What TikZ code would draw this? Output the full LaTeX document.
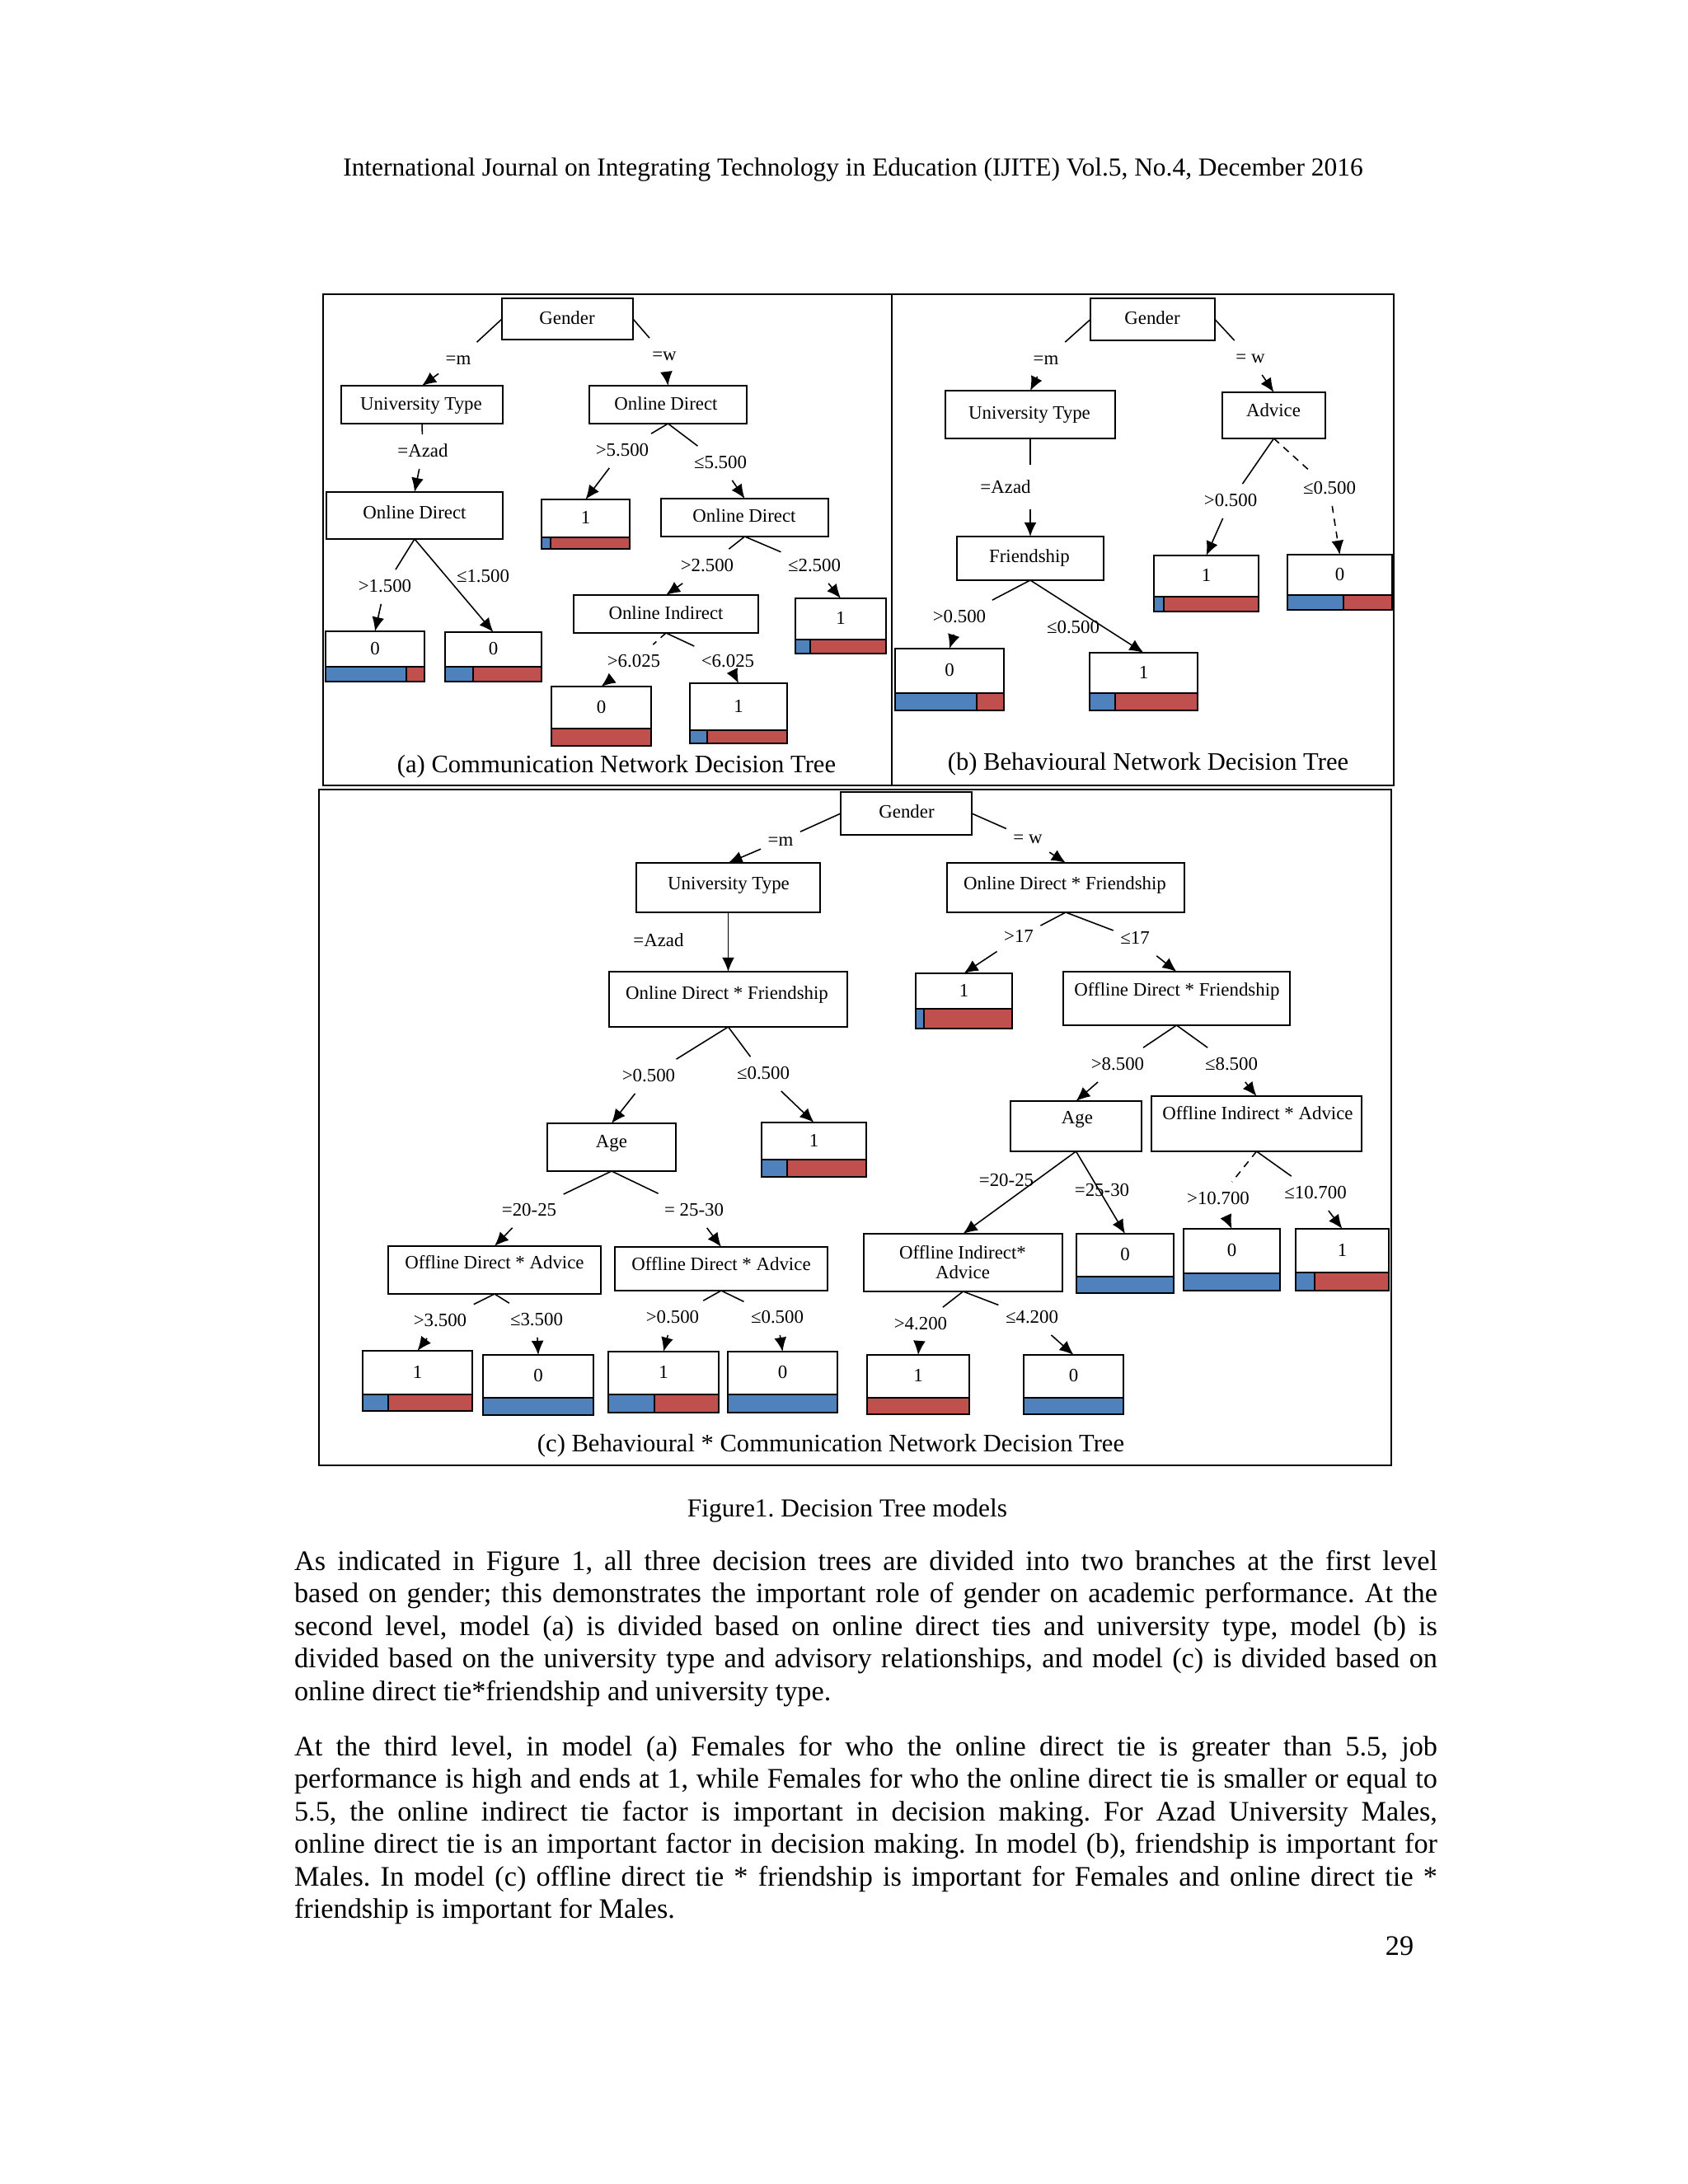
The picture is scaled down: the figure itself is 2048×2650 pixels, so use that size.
\documentclass[tikz,border=0pt]{standalone}
\usepackage{fontspec}
\setmainfont{Liberation Serif}
\usetikzlibrary{arrows.meta,fit}
\definecolor{cblue}{HTML}{4F81BD}
\definecolor{cred}{HTML}{C0504D}
\newlength\bw \setlength\bw{485.4pt}
\frenchspacing
\tikzset{
 boxf/.style={draw, line width=0.8pt, inner sep=0pt, outer sep=0pt},
 nt/.style={font=\fontsize{8}{8.5}\selectfont, inner sep=0pt, text height=0.66em, text depth=0.2em},
 lbl/.style={font=\fontsize{8}{8.5}\selectfont, inner sep=2.8pt, text height=0.66em, text depth=0.2em},
 gapn/.style={inner sep=0pt, minimum width=0pt},
 conn/.style={line width=0.55pt, -{Latex[length=6pt,width=5.2pt]}},
 dconn/.style={conn, dash pattern=on 3pt off 2.5pt},
 panelframe/.style={line width=0.7pt},
 bodyl/.style={anchor=base west, inner sep=0pt, font=\fontsize{12}{13.8}\selectfont},
 capt/.style={anchor=base, inner sep=0pt, font=\fontsize{10.7}{12}\selectfont},
}
\newcommand\mkbox[8]{%
  \node[boxf, fit={(#2,#3) (#4,#5)}] (#1) {};
  \node[nt] (#1-t) at (#6,#7) {#8};}
\newcommand\mkleaf[8]{%
  \fill[cblue] (#2,#6) rectangle (#7,#5);
  \fill[cred] (#7,#6) rectangle (#4,#5);
  \draw[line width=0.8pt] (#2,#6) -- (#4,#6);
  \draw[line width=0.8pt] (#7,#6) -- (#7,#5);
  \node[boxf, fit={(#2,#3) (#4,#5)}] (#1) {};
  \node[nt] (#1-t) at ({(#2+#4)/2},{(#3+#6)/2}) {#8};}
\begin{document}
\begin{tikzpicture}[x=0.35pt,y=-0.35pt]
\fill[white] (0,0) rectangle (2048,2650);
\useasboundingbox (0,0) rectangle (2048,2650);

% header
\node[anchor=base, inner sep=0pt, font=\fontsize{11}{13}\selectfont] (hdr) at (1035,213) {International Journal on Integrating Technology in Education (IJITE) Vol.5, No.4, December 2016};

% frames
\draw[panelframe] (392,357) rectangle (1082,953);
\draw[panelframe] (1082,357) rectangle (1691,953);
\draw[panelframe] (387,958) rectangle (1688,1778);

% ---------------- panel (a)
\mkbox{a1}{609}{362}{768}{412}{688}{387}{Gender}
\mkbox{a2}{414}{468}{610}{514}{511}{491}{University Type}
\mkbox{a3}{715}{468}{906}{514}{808}{491}{Online Direct}
\mkbox{a4}{396}{597}{610}{654}{503}{623}{Online Direct}
\mkleaf{aL1}{657}{606}{764}{666}{652}{668}{1}
\mkbox{a5}{802}{605}{1005}{651}{903}{627}{Online Direct}
\mkleaf{aL2}{395}{766}{515}{827}{809}{493}{0}
\mkleaf{aL3}{540}{767}{657}{827}{809}{574}{0}
\mkbox{a6}{696}{722}{920}{768}{808}{745}{Online Indirect}
\mkleaf{aL4}{965}{726}{1075}{793}{776}{983}{1}
\mkleaf{aL5}{669}{833}{790}{905}{884}{669}{0}
\mkleaf{aL6}{837}{829}{955}{902}{886}{858}{1}

\node[lbl] (la1) at (556,436) {=m};
\node[lbl] (la2) at (806,431) {=w};
\node[lbl] (la3) at (513,548) {=Azad};
\node[lbl] (la4) at (755,547) {>5.500};
\node[lbl] (la5) at (874,562) {≤5.500};
\node[lbl] (la6) at (467,712) {>1.500};
\node[lbl] (la7) at (586,700) {≤1.500};
\node[lbl] (la8) at (858,687) {>2.500};
\node[lbl] (la9) at (988,687) {≤2.500};
\node[lbl] (la10) at (769,803) {>6.025};
\node[lbl] (la11) at (883,803) {<6.025};

\draw[conn] (a1.west) -- (la1) -- (a2.north);
\draw[conn] (a1.east) -- (la2) -- (a3.north);
\draw[conn] (a2.south) -- (la3) -- (a4.north);
\draw[conn] (a3.south) -- (la4) -- (aL1.north);
\draw[conn] (a3.south) -- (la5) -- (a5.north);
\draw[conn] (a4.south) -- (la6) -- (aL2.north);
\draw[conn] (a4.south) -- (aL3.north);
\draw[conn] (a5.south) -- (la8) -- (a6.north);
\draw[conn] (a5.south) -- (la9) -- (aL4.north);
\draw[dconn] (a6.south) -- (la10) -- (aL5.north);
\draw[conn] (a6.south) -- (la11) -- (aL6.north);

\node[capt] (capa) at (748,937) {(a) Communication Network Decision Tree};

% ---------------- panel (b)
\mkbox{b1}{1323}{362}{1474}{413}{1398}{387}{Gender}
\mkbox{b2}{1147}{474}{1353}{532}{1249}{502}{University Type}
\mkbox{b3}{1483}{476}{1608}{532}{1545}{499}{Advice}
\mkbox{b4}{1161}{651}{1339}{704}{1249}{676}{Friendship}
\mkleaf{bL3}{1400}{674}{1527}{742}{724}{1412}{1}
\mkleaf{bL4}{1562}{673}{1689}{740}{722}{1630}{0}
\mkleaf{bL1}{1086}{787}{1218}{862}{841}{1185}{0}
\mkleaf{bL2}{1322}{792}{1453}{862}{841}{1353}{1}

\node[lbl] (lb1) at (1269,436) {=m};
\node[lbl] (lb2) at (1517,434) {= w};
\node[lbl] (lb3) at (1220,592) {=Azad};
\node[gapn, minimum height=18.5pt] (gb3) at (1250,591) {};
\node[lbl] (lb4) at (1493,608) {>0.500};
\node[lbl] (lb5) at (1613,593) {≤0.500};
\node[lbl] (lb6) at (1164,749) {>0.500};
\node[lbl] (lb7) at (1302,762) {≤0.500};

\draw[conn] (b1.west) -- (lb1) -- (b2.north);
\draw[conn] (b1.east) -- (lb2) -- (b3.north);
\draw[conn] (b2.south) -- (gb3) -- (b4.north);
\draw[conn] (b3.south) -- (lb4) -- (bL3.north);
\draw[dconn] (b3.south) -- (lb5) -- (bL4.north);
\draw[conn] (b4.south) -- (lb6) -- (bL1.north);
\draw[conn] (b4.south) -- (bL2.north);

\node[capt] (capb) at (1393,934) {(b) Behavioural Network Decision Tree};

% ---------------- panel (c)
\mkbox{c1}{1020}{961}{1179}{1013}{1100}{986}{Gender}
\mkbox{c2}{772}{1047}{995}{1107}{884}{1073}{University Type}
\mkbox{c3}{1149}{1047}{1437}{1107}{1292}{1073}{Online Direct * Friendship}
\mkbox{c4}{739}{1179}{1028}{1246}{882}{1206}{Online Direct * Friendship}
\mkleaf{cL1}{1111}{1181}{1228}{1248}{1224}{1121}{1}
\mkbox{c5}{1290}{1179}{1565}{1244}{1428}{1202}{Offline Direct * Friendship}
\mkbox{c6}{664}{1363}{820}{1421}{742}{1386}{Age}
\mkleaf{cL2}{924}{1362}{1051}{1428}{1407}{955}{1}
\mkbox{c7}{1226}{1336}{1385}{1397}{1307}{1357}{Age}
\mkbox{c8}{1397}{1330}{1652}{1397}{1526}{1352}{Offline Indirect * Advice}
\mkbox{c9}{471}{1512}{729}{1570}{600}{1533}{Offline Direct * Advice}
\mkbox{c10}{746}{1513}{1004}{1566}{875}{1535}{Offline Direct * Advice}
\node[boxf, fit={(1048,1497) (1289,1567)}] (c11) {};
\node[inner sep=0pt, align=center, font=\fontsize{8}{8.4}\selectfont] (c11-t) at (1168,1532) {Offline Indirect*\\Advice};
\mkleaf{cL3}{1306}{1497}{1424}{1569}{1549}{1424}{0}
\mkleaf{cL4}{1436}{1491}{1553}{1566}{1545}{1553}{0}
\mkleaf{cL5}{1572}{1491}{1685}{1566}{1544}{1595}{1}
\mkleaf{cL6}{440}{1639}{573}{1712}{1692}{471}{1}
\mkleaf{cL7}{586}{1644}{720}{1717}{1696}{720}{0}
\mkleaf{cL8}{738}{1640}{872}{1714}{1692}{794}{1}
\mkleaf{cL9}{883}{1640}{1016}{1714}{1692}{1016}{0}
\mkleaf{cL10}{1052}{1644}{1176}{1716}{1696}{1052}{1}
\mkleaf{cL11}{1242}{1644}{1363}{1716}{1696}{1363}{0}

\node[lbl] (lc1) at (947,1020) {=m};
\node[lbl] (lc2) at (1247,1017) {= w};
\node[lbl] (lc3) at (799,1142) {=Azad};
\node[lbl] (lc4) at (787,1306) {>0.500};
\node[lbl] (lc5) at (926,1303) {≤0.500};
\node[lbl] (lc6) at (1236,1137) {>17};
\node[lbl] (lc7) at (1377,1139) {≤17};
\node[lbl] (lc8) at (1356,1292) {>8.500};
\node[lbl] (lc9) at (1494,1292) {≤8.500};
\node[lbl] (lc10) at (642,1469) {=20-25};
\node[lbl] (lc11) at (842,1469) {= 25-30};
\node[lbl] (lc12) at (1221,1433) {=20-25};
\node[lbl] (lc13) at (1337,1445) {=25-30};
\node[lbl] (lc14) at (1478,1455) {>10.700};
\node[lbl] (lc15) at (1596,1448) {≤10.700};
\node[lbl] (lc16) at (534,1603) {>3.500};
\node[lbl] (lc17) at (651,1602) {≤3.500};
\node[lbl] (lc18) at (816,1599) {>0.500};
\node[lbl] (lc19) at (943,1599) {≤0.500};
\node[lbl] (lc20) at (1117,1607) {>4.200};
\node[lbl] (lc21) at (1252,1599) {≤4.200};

\draw[conn] (c1.west) -- (lc1) -- (c2.north);
\draw[conn] (c1.east) -- (lc2) -- (c3.north);
\draw[conn] (c2.south) -- (c4.north);
\draw[conn] (c4.south) -- (lc4) -- (c6.north);
\draw[conn] (c4.south) -- (lc5) -- (cL2.north);
\draw[conn] (c3.south) -- (lc6) -- (cL1.north);
\draw[conn] (c3.south) -- (lc7) -- (c5.north);
\draw[conn] (c5.south) -- (lc8) -- (c7.north);
\draw[conn] (c5.south) -- (lc9) -- (c8.north);
\draw[conn] (c6.south) -- (lc10) -- (c9.north);
\draw[conn] (c6.south) -- (lc11) -- (c10.north);
\draw[conn] (c7.south) -- (c11.north);
\draw[conn] (c7.south) -- (cL3.north);
\draw[dconn] (c8.south) -- (lc14) -- (cL4.north);
\draw[conn] (c8.south) -- (lc15) -- (cL5.north);
\draw[conn] (c9.south) -- (lc16) -- (cL6.north);
\draw[conn] (c9.south) -- (lc17) -- (cL7.north);
\draw[conn] (c10.south) -- (lc18) -- (cL8.north);
\draw[conn] (c10.south) -- (lc19) -- (cL9.north);
\draw[conn] (c11.south) -- (lc20) -- (cL10.north);
\draw[conn] (c11.south) -- (lc21) -- (cL11.north);

\node[capt] (capc) at (1008,1761) {(c) Behavioural * Communication Network Decision Tree};

% figure caption
\node[anchor=base, inner sep=0pt, font=\fontsize{11}{13}\selectfont] (figcap) at (1028,1840) {Figure1. Decision Tree models};

% body text
\node[bodyl] (p1a) at (356.5,1905) {\hbox to \bw{As indicated in Figure 1, all three decision trees are divided into two branches at the first level}};
\node[bodyl] (p1b) at (356.5,1944.5) {\hbox to \bw{based on gender; this demonstrates the important role of gender on academic performance. At the}};
\node[bodyl] (p1c) at (356.5,1984) {\hbox to \bw{second level, model (a) is divided based on online direct ties and university type, model (b) is}};
\node[bodyl] (p1d) at (356.5,2023.5) {\hbox to \bw{divided based on the university type and advisory relationships, and model (c) is divided based on}};
\node[bodyl] (p1e) at (356.5,2063) {online direct tie*friendship and university type.};

\node[bodyl] (p2a) at (356.5,2130) {\hbox to \bw{At the third level, in model (a) Females for who the online direct tie is greater than 5.5, job}};
\node[bodyl] (p2b) at (356.5,2169.5) {\hbox to \bw{performance is high and ends at 1, while Females for who the online direct tie is smaller or equal to}};
\node[bodyl] (p2c) at (356.5,2209) {\hbox to \bw{5.5, the online indirect tie factor is important in decision making. For Azad University Males,}};
\node[bodyl] (p2d) at (356.5,2248.5) {\hbox to \bw{online direct tie is an important factor in decision making. In model (b), friendship is important for}};
\node[bodyl] (p2e) at (356.5,2288) {\hbox to \bw{Males. In model (c) offline direct tie * friendship is important for Females and online direct tie *}};
\node[bodyl] (p2f) at (356.5,2327.5) {friendship is important for Males.};

\node[anchor=base, inner sep=0pt, font=\fontsize{12}{13.8}\selectfont] (pgno) at (1698,2372) {29};
\end{tikzpicture}
\end{document}
